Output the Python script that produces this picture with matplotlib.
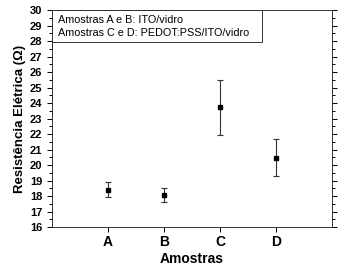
import matplotlib.pyplot as plt
from matplotlib.patches import Rectangle
from matplotlib.ticker import MultipleLocator

# Amostras e resistência medida
amostras = ["A", "B", "C", "D"]
posicoes = [1, 2, 3, 4]
resistencia = [18.42, 18.07, 23.72, 20.48]
erro = [0.48, 0.47, 1.77, 1.2]

legenda = ["Amostras A e B: ITO/vidro", "Amostras C e D: PEDOT:PSS/ITO/vidro"]

plt.rcParams['font.family'] = ['Liberation Sans', 'DejaVu Sans']

fig = plt.figure(figsize=(3.38, 2.71), dpi=100)
ax = fig.add_axes([0.154, 0.162, 0.828, 0.801])

ax.errorbar(posicoes, resistencia, yerr=erro, fmt='s', color='black',
            markersize=3.5, ecolor='#333333', elinewidth=0.8, capsize=2.5, capthick=0.8)

ax.set_xlim(0, 5)
ax.set_ylim(16, 30)
ax.set_xticks(posicoes)
ax.set_xticklabels(amostras, fontsize=10, fontweight='bold')
ax.yaxis.set_major_locator(MultipleLocator(1))
ax.yaxis.set_minor_locator(MultipleLocator(0.5))
ax.tick_params(axis='y', which='both', left=True, right=True, labelsize=8, width=0.7)
ax.tick_params(axis='y', which='major', length=3.5)
ax.tick_params(axis='y', which='minor', length=2)
ax.tick_params(axis='x', length=3.5, width=0.7, pad=2.5)
for lbl in ax.get_yticklabels():
    lbl.set_fontweight('bold')

for s in ax.spines.values():
    s.set_linewidth(0.7)
    s.set_color('#333333')

ax.set_ylabel("Resistência Elétrica (Ω)", fontsize=9.5, fontweight='bold', labelpad=3)
ax.set_xlabel("Amostras", fontsize=10, fontweight='bold', labelpad=2)

# caixa de legenda
ax.add_patch(Rectangle((0, 0.853), 0.75, 0.147, transform=ax.transAxes,
                       fill=False, edgecolor='#333333', linewidth=0.7, clip_on=False))
ax.text(0.02, 0.955, legenda[0], transform=ax.transAxes, fontsize=7.8, va='center')
ax.text(0.02, 0.892, legenda[1], transform=ax.transAxes, fontsize=7.8, va='center')

fig.savefig("out.png", dpi=100)
